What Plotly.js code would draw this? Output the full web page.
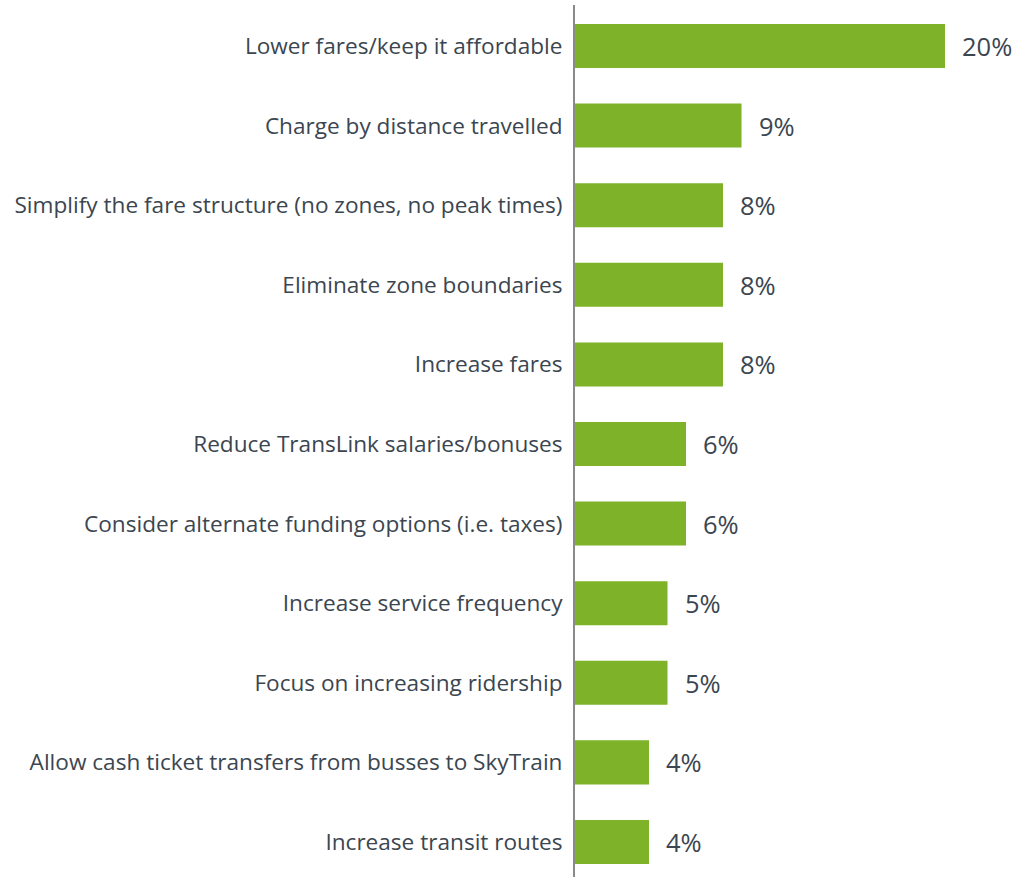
<!DOCTYPE html>
<html><head><meta charset="utf-8">
<script src="https://cdn.plot.ly/plotly-3.0.1.min.js"></script>
<style>html,body{margin:0;padding:0;background:#fff}#chart{width:1015px;height:877px}</style>
</head><body><div id="chart"></div>
<script>
const categories = [
  "Lower fares/keep it affordable",
  "Charge by distance travelled",
  "Simplify the fare structure (no zones, no peak times)",
  "Eliminate zone boundaries",
  "Increase fares",
  "Reduce TransLink salaries/bonuses",
  "Consider alternate funding options (i.e. taxes)",
  "Increase service frequency",
  "Focus on increasing ridership",
  "Allow cash ticket transfers from busses to SkyTrain",
  "Increase transit routes"
];
const values = [20, 9, 8, 8, 8, 6, 6, 5, 5, 4, 4];
const valueLabels = values.map(v => v + "%");

const textColor = "#3b4650";
const trace = {
  type: "bar", orientation: "h",
  x: values, y: categories,
  marker: {color: "#7db229"},
  width: 0.553,
  hoverinfo: "skip"
};
const annotations = values.map((v, i) => ({
  x: v, y: categories[i], xref: "x", yref: "y",
  text: valueLabels[i], showarrow: false, xanchor: "left", yanchor: "middle",
  xshift: 15, font: {family: "Open Sans, sans-serif", size: 25.5, color: textColor}
}));
const layout = {
  width: 1015, height: 877,
  margin: {l: 575, r: 70, t: 5, b: 0},
  paper_bgcolor: "#fff", plot_bgcolor: "#fff",
  showlegend: false,
  xaxis: {range: [0, 20], visible: false, fixedrange: true},
  yaxis: {
    type: "category",
    range: [10.44, -0.515],
    showline: true, linecolor: "#8a8a8a", linewidth: 2,
    showgrid: false, zeroline: false, ticks: "",
    ticklabelstandoff: 6,
    tickfont: {family: "Open Sans, sans-serif", size: 22.6, color: textColor}
  },
  annotations: annotations
};
Plotly.newPlot("chart", [trace], layout, {displayModeBar: false, staticPlot: true});
</script></body></html>
